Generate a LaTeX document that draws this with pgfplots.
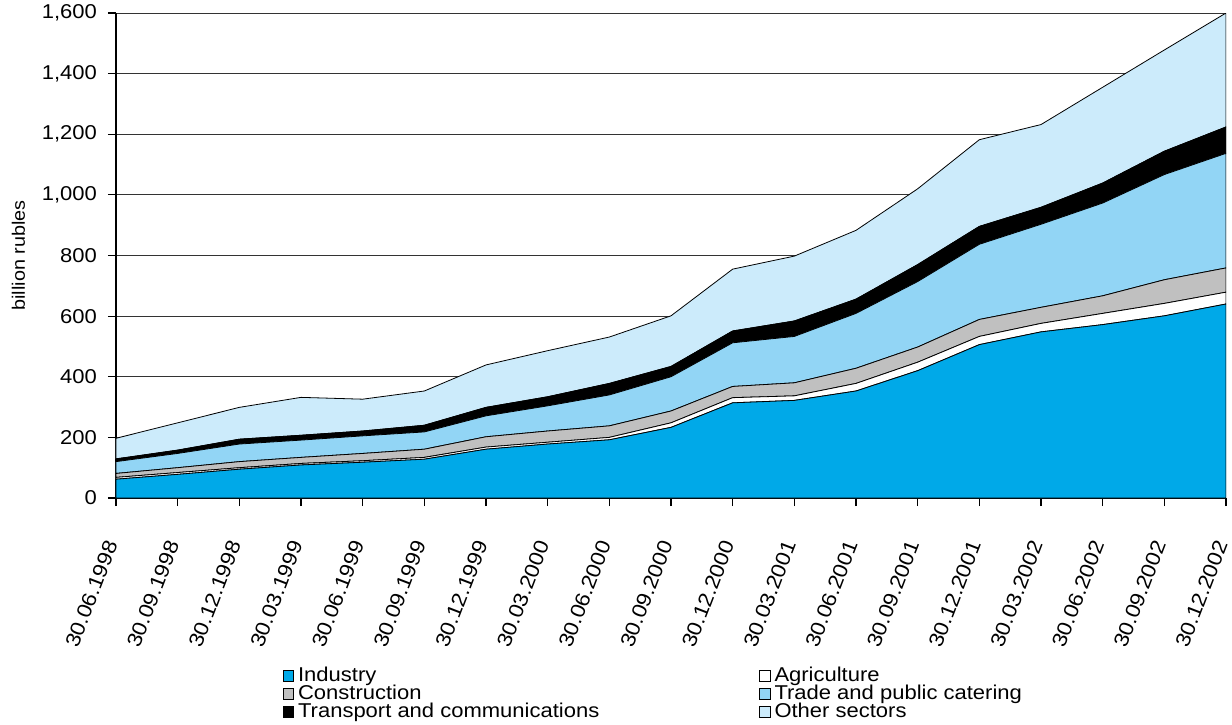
\documentclass[border=0pt]{standalone}
\usepackage{fontspec}
\setmainfont[FakeStretch=1.1]{Liberation Sans}
\usepackage{pgfplots}
\pgfplotsset{compat=1.18}
\usepackage{pgfplotstable}

\definecolor{indcol}{RGB}{0,169,232}
\definecolor{concol}{RGB}{192,192,192}
\definecolor{tracol}{RGB}{146,213,245}
\definecolor{othcol}{RGB}{204,235,251}

% bank loans by sector, billion rubles
\pgfplotstableread{
x  ind agr con tra trn oth
0   62   6  13  39   9  68
1   78   6  16  47  11  90
2   95   5  20  58  16 105
3  109   5  20  57  16 125
4  118   5  24  58  16 105
5  128   6  27  57  22 113
6  161   7  34  69  28 140
7  178   6  37  83  30 152
8  192   8  38 102  38 153
9  233  15  39 113  34 167
10 314  17  37 144  39 204
11 322  15  43 153  51 214
12 353  25  50 181  47 227
13 420  28  50 216  56 250
14 506  27  56 248  59 286
15 548  28  53 274  56 273
16 572  37  58 306  66 316
17 601  41  78 347  77 334
18 640  39  80 378  87 376
}\sectors

\begin{document}
\begin{tikzpicture}
\path[use as bounding box] (-58pt,-113pt) rectangle (558pt,249pt);

\begin{axis}[
    at={(0,0)}, anchor=south west,
    scale only axis,
    width=555pt, height=242.5pt,
    xmin=0, xmax=18,
    ymin=0, ymax=1600,
    stack plots=y,
    axis lines*=left,
    axis line style={black, line width=0.6pt},
    xtick={0,...,18},
    xticklabels={30.06.1998,30.09.1998,30.12.1998,30.03.1999,30.06.1999,30.09.1999,
                 30.12.1999,30.03.2000,30.06.2000,30.09.2000,30.12.2000,30.03.2001,
                 30.06.2001,30.09.2001,30.12.2001,30.03.2002,30.06.2002,30.09.2002,30.12.2002},
    ytick={0,200,...,1600},
    tick align=outside,
    major tick length=4pt,
    tick style={black, line width=0.6pt},
    ymajorgrids,
    major grid style={black!80, line width=0.5pt},
    font=\fontsize{10}{12}\selectfont,
    /pgf/number format/.cd, 1000 sep={,}, assume math mode=true, /pgfplots/.cd,
    yticklabel style={xshift=-2pt},
    xticklabel style={yshift=-14.5pt, xshift=-1pt, rotate=69, anchor=east,
        font=\fontsize{10.2}{12}\selectfont},
    ylabel={billion rubles},
    every axis y label/.style={at={(axis description cs:-0.088,0.5)}, rotate=90, anchor=center,
        font=\fontsize{9}{11}\selectfont},
    legend columns=2,
    legend cell align=left,
    legend style={draw=none, fill=none, at={(0.150,-0.340)}, anchor=north west,
        inner sep=0pt, row sep=-3.8pt,
        /tikz/every even column/.append style={column sep=78pt}},
    legend image code/.code={\draw[#1] (0pt,-2.6pt) rectangle (5.2pt,2.6pt);},
]
\addplot[fill=indcol, draw=black, line width=0.4pt] table[x=x, y=ind] {\sectors} \closedcycle;
\addplot[fill=white, draw=black, line width=0.4pt] table[x=x, y=agr] {\sectors} \closedcycle;
\addplot[fill=concol, draw=black, line width=0.4pt] table[x=x, y=con] {\sectors} \closedcycle;
\addplot[fill=tracol, draw=black, line width=0.4pt] table[x=x, y=tra] {\sectors} \closedcycle;
\addplot[fill=black, draw=black, line width=0.4pt] table[x=x, y=trn] {\sectors} \closedcycle;
\addplot[fill=othcol, draw=black, line width=0.4pt] table[x=x, y=oth] {\sectors} \closedcycle;
\legend{Industry, Agriculture, Construction, Trade and public catering,
        Transport and communications, Other sectors}
\end{axis}
\end{tikzpicture}
\end{document}
